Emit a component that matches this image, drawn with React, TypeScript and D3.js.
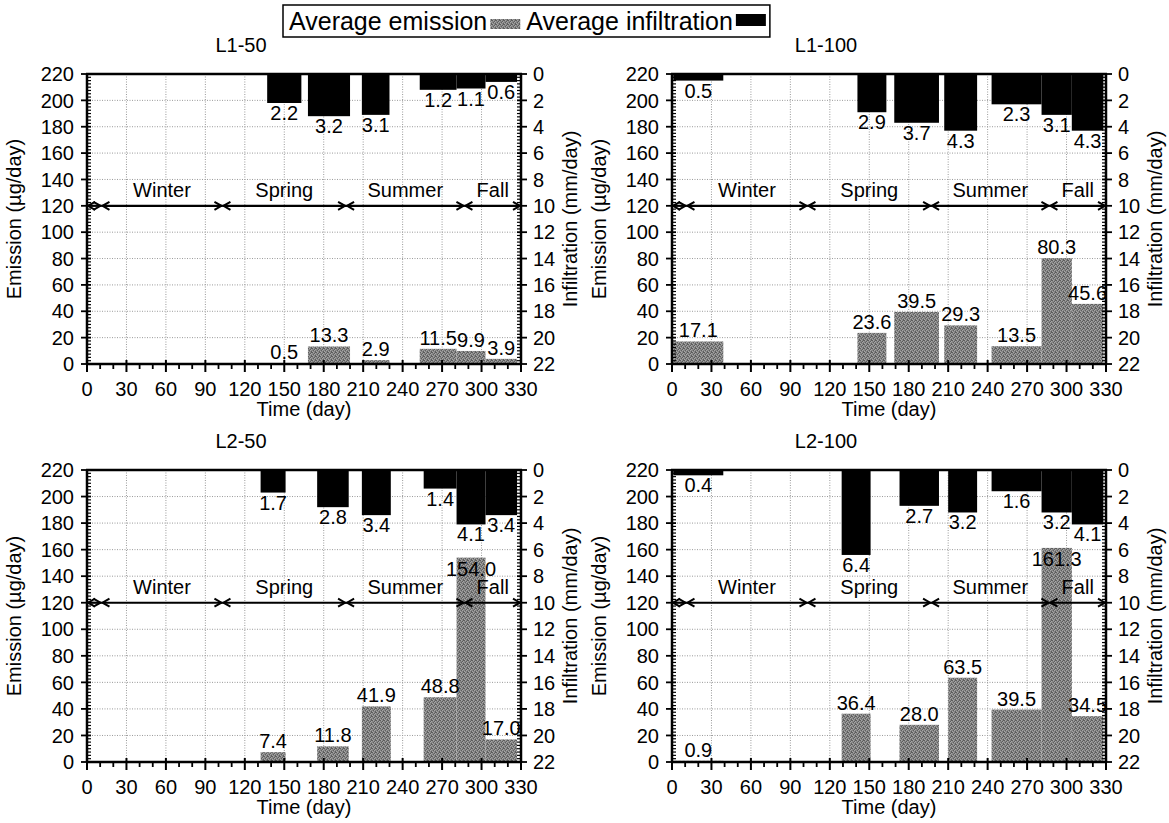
import React, { useEffect, useRef } from "react";
import * as d3 from "d3";

const W = 1169;
const H = 823;
const FONT = "'Liberation Sans', Arial, Helvetica, sans-serif";

// ---- data -------------------------------------------------------------
const panelTitles = ["L1-50", "L1-100", "L2-50", "L2-100"];

// measurement periods (day of start / day of end) and their averages
const l150Start = [137, 168, 209, 253, 281, 303];
const l150End = [163, 200, 230, 281, 303, 327];
const l150Emission = [0.5, 13.3, 2.9, 11.5, 9.9, 3.9];
const l150Infiltration = [2.2, 3.2, 3.1, 1.2, 1.1, 0.6];

const l1100Start = [1, 141, 169, 207, 243, 281, 304];
const l1100End = [39, 163, 203, 232, 281, 304, 328];
const l1100Emission = [17.1, 23.6, 39.5, 29.3, 13.5, 80.3, 45.6];
const l1100Infiltration = [0.5, 2.9, 3.7, 4.3, 2.3, 3.1, 4.3];

const l250Start = [132, 175, 209, 256, 281, 303];
const l250End = [151, 199, 231, 281, 303, 327];
const l250Emission = [7.4, 11.8, 41.9, 48.8, 154.0, 17.0];
const l250Infiltration = [1.7, 2.8, 3.4, 1.4, 4.1, 3.4];

const l2100Start = [1, 129, 173, 210, 243, 281, 304];
const l2100End = [39, 151, 203, 232, 281, 304, 328];
const l2100Emission = [0.9, 36.4, 28.0, 63.5, 39.5, 161.3, 34.5];
const l2100Infiltration = [0.4, 6.4, 2.7, 3.2, 1.6, 3.2, 4.1];

const seasonBounds = [0, 11, 103, 197, 287, 330];
const seasonNames = ["", "Winter", "Spring", "Summer", "Fall"];
const seasonLevel = 120;

const dayTicks = d3.range(0, 331, 30);
const dayMinorTicks = d3.range(0, 331, 10);
const emissionTicks = d3.range(0, 221, 20);
const emissionMinorTicks = d3.range(0, 220.1, 2.5);
const infiltrationTicks = d3.range(0, 23, 2);
const infiltrationMinorTicks = d3.range(0, 22.01, 0.25);

const legendItems = ["Average emission", "Average infiltration"];

type Panel = {
  title: string;
  start: number[];
  end: number[];
  emission: number[];
  infiltration: number[];
};

const panels: Panel[] = [
  { title: panelTitles[0], start: l150Start, end: l150End, emission: l150Emission, infiltration: l150Infiltration },
  { title: panelTitles[1], start: l1100Start, end: l1100End, emission: l1100Emission, infiltration: l1100Infiltration },
  { title: panelTitles[2], start: l250Start, end: l250End, emission: l250Emission, infiltration: l250Infiltration },
  { title: panelTitles[3], start: l2100Start, end: l2100End, emission: l2100Emission, infiltration: l2100Infiltration },
];

// plot-area frames of the 2x2 grid
const frames = [
  { x0: 87, x1: 521, y0: 74, y1: 364 },
  { x0: 672, x1: 1106, y0: 74, y1: 364 },
  { x0: 87, x1: 521, y0: 470, y1: 762 },
  { x0: 672, x1: 1106, y0: 470, y1: 762 },
];

const EMISSION_FILL = "url(#emissionTexture)";
const FS = 20;

function drawPanel(
  svg: d3.Selection<SVGSVGElement, unknown, null, undefined>,
  p: Panel,
  f: { x0: number; x1: number; y0: number; y1: number }
) {
  const g = svg.append("g");
  const x = d3.scaleLinear().domain([0, 330]).range([f.x0, f.x1]);
  const yE = d3.scaleLinear().domain([0, 220]).range([f.y1, f.y0]);
  const yI = d3.scaleLinear().domain([0, 22]).range([f.y0, f.y1]);

  // grid
  const grid = g.append("g").attr("stroke", "#9a9a9a").attr("stroke-width", 1).attr("stroke-dasharray", "1,1.5");
  dayTicks
    .filter((d) => d > 0 && d < 330)
    .forEach((d) => {
      grid.append("line").attr("x1", x(d)).attr("x2", x(d)).attr("y1", f.y0).attr("y2", f.y1);
    });
  emissionTicks
    .filter((d) => d > 0 && d < 220)
    .forEach((d) => {
      grid.append("line").attr("x1", f.x0).attr("x2", f.x1).attr("y1", yE(d)).attr("y2", yE(d));
    });

  const idx = d3.range(p.start.length);

  // emission bars (from the bottom)
  g.append("g")
    .selectAll("rect")
    .data(idx)
    .join("rect")
    .attr("x", (i) => x(p.start[i]))
    .attr("width", (i) => x(p.end[i]) - x(p.start[i]))
    .attr("y", (i) => yE(p.emission[i]))
    .attr("height", (i) => yE(0) - yE(p.emission[i]))
    .attr("fill", EMISSION_FILL);

  // infiltration bars (hanging from the top)
  g.append("g")
    .selectAll("rect")
    .data(idx)
    .join("rect")
    .attr("x", (i) => x(p.start[i]))
    .attr("width", (i) => x(p.end[i]) - x(p.start[i]))
    .attr("y", yI(0))
    .attr("height", (i) => yI(p.infiltration[i]) - yI(0))
    .attr("fill", "#000");

  // seasons: double-headed arrows along the 120 level
  const ys = yE(seasonLevel);
  const sg = g.append("g").attr("stroke", "#000").attr("fill", "none");
  for (let k = 0; k < seasonBounds.length - 1; k++) {
    const a = x(seasonBounds[k]);
    const b = x(seasonBounds[k + 1]);
    sg.append("line").attr("x1", a).attr("x2", b).attr("y1", ys).attr("y2", ys).attr("stroke-width", 2.2);
    const head = 8;
    const hw = 4;
    sg.append("path")
      .attr("d", `M${a + head},${ys - hw} L${a + 1},${ys} L${a + head},${ys + hw}`)
      .attr("stroke-width", 2);
    sg.append("path")
      .attr("d", `M${b - head},${ys - hw} L${b - 1},${ys} L${b - head},${ys + hw}`)
      .attr("stroke-width", 2);
    if (seasonNames[k]) {
      g.append("text")
        .attr("x", x((seasonBounds[k] + seasonBounds[k + 1]) / 2))
        .attr("y", ys - 9)
        .attr("text-anchor", "middle")
        .attr("font-size", FS)
        .text(seasonNames[k]);
    }
  }

  // axes frame
  const ax = g.append("g").attr("stroke", "#000");
  ax.append("line").attr("x1", f.x0 - 1).attr("x2", f.x1 + 1).attr("y1", f.y0).attr("y2", f.y0).attr("stroke-width", 2.5);
  ax.append("line").attr("x1", f.x0 - 1).attr("x2", f.x1 + 1).attr("y1", f.y1).attr("y2", f.y1).attr("stroke-width", 2.5);
  ax.append("line").attr("x1", f.x0).attr("x2", f.x0).attr("y1", f.y0).attr("y2", f.y1).attr("stroke-width", 2.5);
  ax.append("line").attr("x1", f.x1).attr("x2", f.x1).attr("y1", f.y0).attr("y2", f.y1).attr("stroke-width", 2.5);

  // x ticks
  dayMinorTicks.forEach((d) => {
    const major = d % 30 === 0;
    ax.append("line")
      .attr("x1", x(d)).attr("x2", x(d))
      .attr("y1", major ? f.y1 - 4 : f.y1)
      .attr("y2", major ? f.y1 + 8 : f.y1 + 5)
      .attr("stroke-width", major ? 2 : 1.8);
  });
  // left ticks
  emissionMinorTicks.forEach((d) => {
    const major = d % 20 === 0;
    ax.append("line")
      .attr("x1", major ? f.x0 - 6 : f.x0)
      .attr("x2", f.x0 + 4)
      .attr("y1", yE(d)).attr("y2", yE(d))
      .attr("stroke-width", major ? 1.8 : 1.2);
  });
  // right ticks
  infiltrationMinorTicks.forEach((d) => {
    const major = Math.abs(d % 2) < 1e-9;
    ax.append("line")
      .attr("x1", f.x1 - 4)
      .attr("x2", major ? f.x1 + 6 : f.x1)
      .attr("y1", yI(d)).attr("y2", yI(d))
      .attr("stroke-width", major ? 1.8 : 1.2);
  });

  const tg = g.append("g").attr("font-size", FS).attr("fill", "#000");
  dayTicks.forEach((d) => {
    tg.append("text").attr("x", x(d)).attr("y", f.y1 + 32).attr("text-anchor", "middle").text(d);
  });
  emissionTicks.forEach((d) => {
    tg.append("text").attr("x", f.x0 - 13).attr("y", yE(d)).attr("dy", "0.36em").attr("text-anchor", "end").text(d);
  });
  infiltrationTicks.forEach((d) => {
    tg.append("text").attr("x", f.x1 + 12).attr("y", yI(d)).attr("dy", "0.36em").attr("text-anchor", "start").text(d);
  });

  // axis titles
  const cy = (f.y0 + f.y1) / 2;
  tg.append("text")
    .attr("transform", `translate(${f.x0 - 66},${cy}) rotate(-90)`)
    .attr("text-anchor", "middle")
    .text("Emission (\u00b5g/day)");
  tg.append("text")
    .attr("transform", `translate(${f.x1 + 56},${cy}) rotate(-90)`)
    .attr("text-anchor", "middle")
    .text("Infiltration (mm/day)");
  tg.append("text")
    .attr("x", (f.x0 + f.x1) / 2)
    .attr("y", f.y1 + 52)
    .attr("text-anchor", "middle")
    .text("Time (day)");
  tg.append("text")
    .attr("x", (f.x0 + f.x1) / 2 - 63)
    .attr("y", f.y0 - 22)
    .attr("text-anchor", "middle")
    .text(p.title);

  // value labels; very tall emission bars carry their label just inside the top
  idx.forEach((i) => {
    const cx = (x(p.start[i]) + x(p.end[i])) / 2;
    const v = p.emission[i];
    const top = yE(v);
    tg.append("text")
      .attr("x", cx)
      .attr("y", v > 150 ? top + 18 : top - 4)
      .attr("text-anchor", "middle")
      .text(v.toFixed(1));
    const w = p.infiltration[i];
    tg.append("text")
      .attr("x", cx)
      .attr("y", yI(w) + 17)
      .attr("text-anchor", "middle")
      .text(w.toFixed(1));
  });
}

export default function App() {
  const ref = useRef<SVGSVGElement>(null);

  useEffect(() => {
    const svg = d3.select(ref.current!);
    svg.selectAll("*").remove();
    svg.attr("font-family", FONT);

    const defs = svg.append("defs");
    const pat = defs
      .append("pattern")
      .attr("id", "emissionTexture")
      .attr("patternUnits", "userSpaceOnUse")
      .attr("width", 4)
      .attr("height", 4);
    pat.append("rect").attr("width", 4).attr("height", 4).attr("fill", "#858585");
    const dark: [number, number][] = [[0, 0], [2, 1], [1, 2], [3, 3], [3, 0]];
    const light: [number, number][] = [[1, 0], [3, 1], [0, 3], [2, 2]];
    dark.forEach(([a, b]) => pat.append("rect").attr("x", a).attr("y", b).attr("width", 1).attr("height", 1).attr("fill", "#5e5e5e"));
    light.forEach(([a, b]) => pat.append("rect").attr("x", a).attr("y", b).attr("width", 1).attr("height", 1).attr("fill", "#a6a6a6"));

    svg.append("rect").attr("width", W).attr("height", H).attr("fill", "#fff");

    panels.forEach((p, k) => drawPanel(svg, p, frames[k]));

    // legend
    const lg = svg.append("g").attr("font-size", 25);
    const box = lg.append("rect").attr("x", 283).attr("y", 5).attr("height", 32).attr("fill", "#fff").attr("stroke", "#000").attr("stroke-width", 1.5);
    let cx = 289;
    const swatches = [EMISSION_FILL, "#000"];
    legendItems.forEach((label, i) => {
      const t = lg.append("text").attr("x", cx).attr("y", 30).text(label);
      const len = (t.node() as SVGTextElement).getComputedTextLength();
      cx += len + 3;
      lg.append("rect").attr("x", cx).attr("y", i === 0 ? 19 : 14).attr("width", 30).attr("height", i === 0 ? 10 : 12).attr("fill", swatches[i]);
      cx += 30 + 6;
    });
    box.attr("width", cx - 283 - 2);
  }, []);

  return (
    <svg
      ref={ref}
      width={W}
      height={H}
      style={{ position: "absolute", left: 0, top: 0, background: "#fff" }}
    />
  );
}
